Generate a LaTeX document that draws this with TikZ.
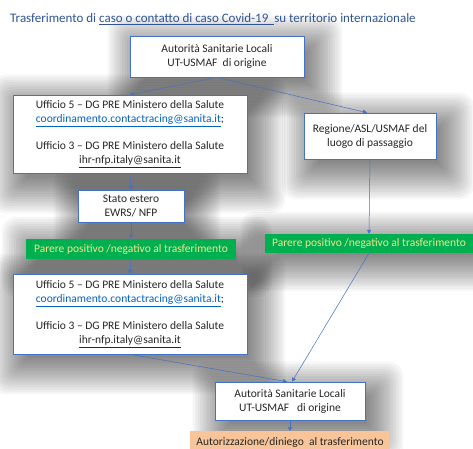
\documentclass[tikz,border=0pt]{standalone}
\usepackage{fontspec}
\setmainfont{Carlito}
\usetikzlibrary{backgrounds,arrows.meta}
\definecolor{bord}{HTML}{4472C4}
\definecolor{ttl}{HTML}{2F5597}
\definecolor{lnk}{HTML}{0563C1}
\definecolor{txt}{HTML}{262626}
\definecolor{grn}{HTML}{00B050}
\definecolor{ylw}{HTML}{F3E58C}
\definecolor{org}{HTML}{F8C59A}
\newcommand{\ulink}[1]{\textcolor{lnk}{\underline{#1}}}
\newcommand{\softshadow}[3]{%
  \foreach \k in {0,...,15}{%
    \fill[black, opacity=0.034, rounded corners=\k pt]
      ([shift={(#2-2.4*\k+6, #3-2.4*\k+6)}]#1.north west) rectangle
      ([shift={(#2+2.4*\k-6, #3+2.4*\k-6)}]#1.south east);
  }}
\tikzset{
  box/.style={draw=bord, line width=0.6pt, fill=white, text=txt, align=center,
    font=\fontsize{11.5}{14}\selectfont, inner sep=0pt},
  gbox/.style={fill=grn, text=ylw, align=center, font=\fontsize{11.5}{13}\selectfont, inner sep=0pt},
  obox/.style={fill=org, text=txt, align=center, font=\fontsize{11.5}{13}\selectfont, inner sep=0pt},
  conn/.style={draw=bord, line width=0.5pt, -{Triangle[length=4pt,width=4pt]}}
}
\begin{document}
\begin{tikzpicture}[x=1pt,y=-1pt]
\useasboundingbox (0,0) rectangle (473,448);
\node[anchor=west, text=ttl, font=\fontsize{13}{15}\selectfont, inner sep=0pt] (title) at (10,19)
  {Trasferimento di \underline{caso o contatto di caso Covid-19\ \ }su territorio internazionale};
\node[box, minimum width=174pt, minimum height=41pt] (a1) at (217,56.5)
  {Autorità Sanitarie Locali\\UT-USMAF\ \ di origine};
\node[box, minimum width=234pt, minimum height=78pt] (u1) at (130,134)
  {Ufficio 5 -- DG PRE Ministero della Salute\\\ulink{coordinamento.contactracing@sanita.it};\\[13pt]
   Ufficio 3 -- DG PRE Ministero della Salute\\\underline{ihr-nfp.italy@sanita.it}};
\node[box, minimum width=132pt, minimum height=46pt] (reg) at (370,136)
  {Regione/ASL/USMAF del\\luogo di passaggio};
\node[box, minimum width=106pt, minimum height=32pt] (st) at (131,206)
  {Stato estero\\EWRS/ NFP};
\node[gbox, minimum width=210pt, minimum height=20pt] (g1) at (131,249)
  {Parere positivo /negativo al trasferimento};
\node[gbox, minimum width=208pt, minimum height=19pt] (g2) at (369,243.5)
  {Parere positivo /negativo al trasferimento};
\node[box, minimum width=234pt, minimum height=80pt] (u2) at (130,314)
  {Ufficio 5 -- DG PRE Ministero della Salute\\\ulink{coordinamento.contactracing@sanita.it};\\[13pt]
   Ufficio 3 -- DG PRE Ministero della Salute\\\underline{ihr-nfp.italy@sanita.it}};
\node[box, minimum width=150pt, minimum height=38pt] (a2) at (290,401)
  {Autorità Sanitarie Locali\\UT-USMAF\ \ \ di origine};
\node[obox, minimum width=200pt, minimum height=22pt, anchor=north] (au) at (290,431)
  {Autorizzazione/diniego\ \ al trasferimento};
\begin{scope}[on background layer]
  \fill[white] (0,0) rectangle (473,448);
  \softshadow{a1}{8}{10}
  \softshadow{u1}{8}{10}
  \softshadow{reg}{8}{10}
  \softshadow{st}{6}{8}
  \softshadow{g1}{6}{8}
  \softshadow{g2}{6}{8}
  \softshadow{u2}{8}{10}
  \softshadow{a2}{8}{10}
\end{scope}
\draw[conn] (a1.south) -- (u1.north);
\draw[conn] (a1.south) -- ([xshift=-3pt]reg.north);
\draw[conn] (reg.south) -- (g2.north);
\draw[conn] (u1.south) -- (st.north);
\draw[conn] (st.south) -- (g1.north);
\draw[conn] (g1.south) -- (u2.north);
\draw[conn] (u2.south) -- ([xshift=-3pt]a2.north);
\draw[conn] (g2.south) -- ([xshift=2pt]a2.north);
\draw[conn] (a2.south) -- (au.north);
\end{tikzpicture}
\end{document}
